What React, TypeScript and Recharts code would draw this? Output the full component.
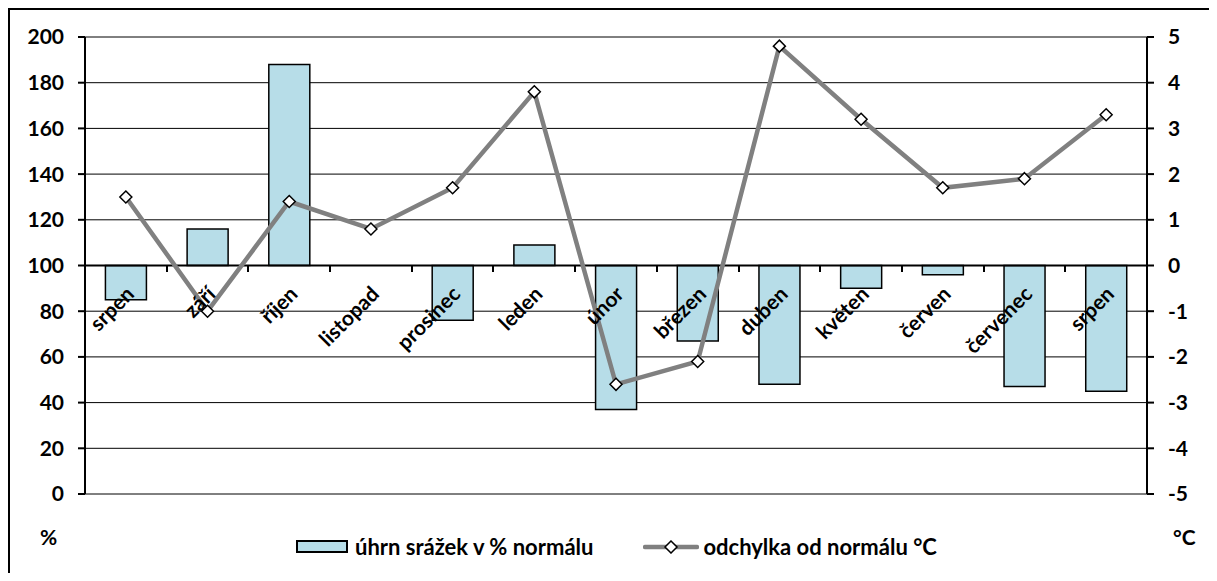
import React from "react";
import {
  ComposedChart, Bar, Line, XAxis, YAxis, CartesianGrid, ReferenceLine,
} from "recharts";

const MONTHS = [
  "srpen", "září", "říjen", "listopad", "prosinec", "leden", "únor",
  "březen", "duben", "květen", "červen", "červenec", "srpen",
];
// úhrn srážek v % normálu
const RAIN = [85, 116, 188, 100, 76, 109, 37, 67, 48, 90, 96, 47, 45];
// odchylka od normálu °C
const TEMP = [1.5, -1.0, 1.4, 0.8, 1.7, 3.8, -2.6, -2.1, 4.8, 3.2, 1.7, 1.9, 3.3];
const LEFT_TICKS = [0, 20, 40, 60, 80, 100, 120, 140, 160, 180, 200];
const RIGHT_TICKS = [-5, -4, -3, -2, -1, 0, 1, 2, 3, 4, 5];
const BASE = 100;

const CHART_W = 1201;
const CHART_H = 565;
const PLOT_LEFT = 77;
const PLOT_TOP = 29;
const PLOT_W = 1062;
const PLOT_H = 457;
const X_AXIS_H = CHART_H - PLOT_TOP - PLOT_H;
const BORDER = 2;

const FONT = "Lato, sans-serif";
const BAR_FILL = "#b7dde8";
const LINE_GRAY = "#808080";

// bars hang from the 100 % line, so each one is a [100, value] range
const data = MONTHS.map((m, i) => ({ month: m, rain: [BASE, RAIN[i]], temp: TEMP[i] }));

// Excel puts the category axis on the 100 % line, with labels at -45°
const MonthLabels = () => {
  const baseY = PLOT_TOP + PLOT_H * (1 - BASE / 200);
  const bw = PLOT_W / MONTHS.length;
  const asc = 17;
  return (
    <>
      {MONTHS.map((m, i) => {
        const cx = PLOT_LEFT + bw * (i + 0.5);
        const px = cx + 8 - BORDER;
        const py = baseY + 28 - BORDER;
        return (
          <React.Fragment key={i}>
            <div
              style={{
                position: "absolute",
                left: cx + bw / 2 - BORDER - 1,
                top: baseY - BORDER,
                width: 2,
                height: 6,
                background: "#000",
              }}
            />
            <div
              style={{
                position: "absolute",
                right: CHART_W - BORDER - px,
                top: py - asc,
                fontSize: 21,
                lineHeight: "21px",
                fontWeight: 700,
                whiteSpace: "nowrap",
                transformOrigin: `100% ${asc}px`,
                transform: "rotate(-45deg)",
              }}
            >
              {m}
            </div>
          </React.Fragment>
        );
      })}
    </>
  );
};

const renderDiamond = (props: any) => {
  const { cx, cy, index } = props;
  const r = 6;
  return (
    <path
      key={`d-${index}`}
      d={`M${cx},${cy - r}L${cx + r},${cy}L${cx},${cy + r}L${cx - r},${cy}Z`}
      fill="#fff"
      stroke="#000"
      strokeWidth={1.5}
    />
  );
};

export default function App() {
  const tickStyle = { fill: "#000", fontFamily: FONT, fontWeight: 700, fontSize: 21 };
  return (
    <div
      style={{
        position: "relative",
        width: CHART_W,
        height: CHART_H,
        borderLeft: `${BORDER}px solid #000`,
        borderTop: `${BORDER}px solid #000`,
        boxSizing: "border-box",
        fontFamily: FONT,
      }}
    >
      <div style={{ position: "absolute", left: -BORDER, top: -BORDER }}>
        <ComposedChart
          width={CHART_W}
          height={CHART_H}
          data={data}
          barCategoryGap="25%"
          margin={{ top: PLOT_TOP, right: 0, left: 0, bottom: 0 }}
        >
          <CartesianGrid vertical={false} stroke="#000" strokeWidth={1} yAxisId="left" />
          <XAxis
            dataKey="month"
            height={X_AXIS_H}
            axisLine={false}
            tickLine={false}
            tick={false}
          />
          <YAxis
            yAxisId="left"
            width={PLOT_LEFT}
            domain={[0, 200]}
            ticks={LEFT_TICKS}
            interval={0}
            axisLine={{ stroke: "#000", strokeWidth: 2 }}
            tickLine={{ stroke: "#000", strokeWidth: 2 }}
            tickSize={7}
            tickMargin={14}
            tick={tickStyle}
          />
          <YAxis
            yAxisId="right"
            orientation="right"
            width={CHART_W - PLOT_LEFT - PLOT_W}
            domain={[-5, 5]}
            ticks={RIGHT_TICKS}
            interval={0}
            axisLine={{ stroke: "#000", strokeWidth: 2 }}
            tickLine={{ stroke: "#000", strokeWidth: 2 }}
            tickSize={7}
            tickMargin={14}
            tick={{ ...tickStyle, textAnchor: "start" }}
          />
          <Bar
            yAxisId="left"
            dataKey="rain"
            fill={BAR_FILL}
            stroke="#000"
            strokeWidth={1.5}
            isAnimationActive={false}
          />
          <ReferenceLine yAxisId="left" y={BASE} stroke="#000" strokeWidth={2} />
          <Line
            yAxisId="right"
            dataKey="temp"
            stroke={LINE_GRAY}
            strokeWidth={4.5}
            dot={renderDiamond}
            activeDot={false}
            isAnimationActive={false}
          />
        </ComposedChart>
      </div>

      <MonthLabels />

      <div style={{ position: "absolute", left: 30, top: 514, fontSize: 21, fontWeight: 700 }}>%</div>
      <div style={{ position: "absolute", left: 1163, top: 514, fontSize: 21, fontWeight: 700 }}>°C</div>

      <div
        style={{
          position: "absolute",
          left: 286,
          top: 523,
          display: "flex",
          alignItems: "center",
          fontSize: 22,
          fontWeight: 700,
          whiteSpace: "nowrap",
        }}
      >
        <div style={{ width: 52, height: 13, background: BAR_FILL, border: "2px solid #000", boxSizing: "border-box", marginRight: 7 }} />
        <span>úhrn srážek v % normálu</span>
        <svg width={56} height={14} style={{ marginLeft: 50, marginRight: 4 }}>
          <line x1={2} x2={54} y1={7} y2={7} stroke={LINE_GRAY} strokeWidth={4.5} strokeLinecap="round" />
          <path d="M28,1L34,7L28,13L22,7Z" fill="#fff" stroke="#000" strokeWidth={1.5} />
        </svg>
        <span>odchylka od normálu °C</span>
      </div>
    </div>
  );
}
